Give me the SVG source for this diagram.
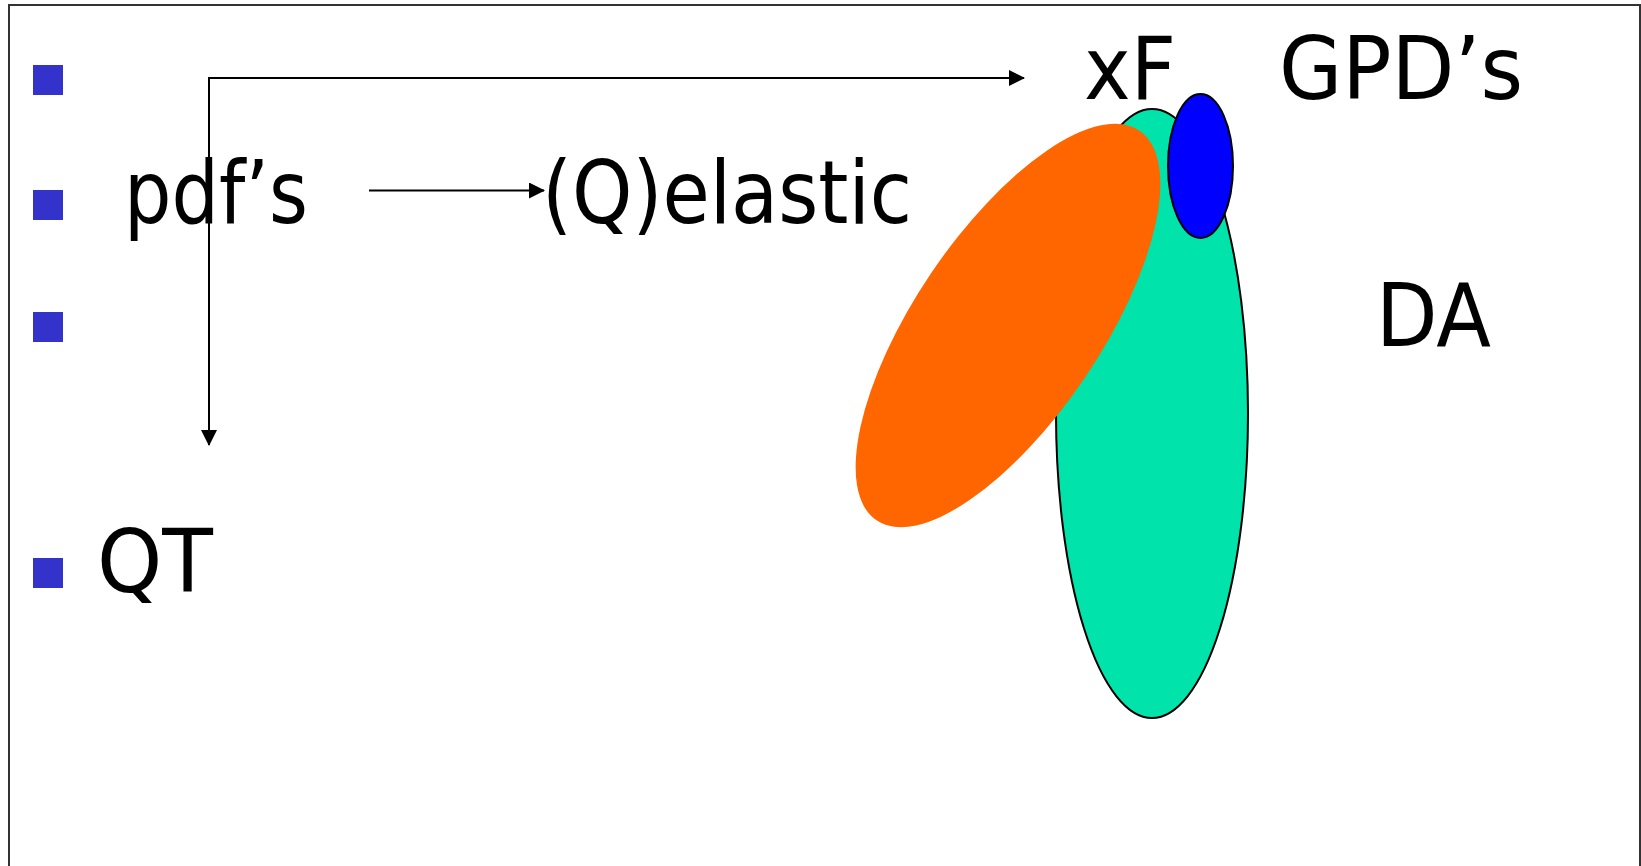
<svg xmlns="http://www.w3.org/2000/svg" width="1641" height="866" viewBox="0 0 1641 866">
<style>
.t{font-family:"DejaVu Sans","Liberation Sans",sans-serif;font-size:88px;fill:#000}
.b{fill:#3333CC}
.c{stroke:#000;stroke-width:2;fill:none}
</style>
<defs>
<marker id="ah" viewBox="0 0 16 16" refX="15" refY="8" markerWidth="16" markerHeight="16" markerUnits="userSpaceOnUse" orient="auto">
<path d="M0,0 L16,8 L0,16 Z" fill="#000"/>
</marker>
</defs>
<rect x="0" y="0" width="1641" height="866" fill="#fff"/>
<rect x="9" y="5" width="1631" height="900" fill="none" stroke="#333" stroke-width="2"/>
<g id="bullets">
<rect class="b" x="33" y="65" width="30" height="30"/>
<rect class="b" x="33" y="190" width="30" height="30"/>
<rect class="b" x="33" y="312" width="30" height="30"/>
<rect class="b" x="33" y="558" width="30" height="30"/>
</g>
<g id="shapes">
<ellipse id="green" cx="1152" cy="413.5" rx="96" ry="304.5" fill="#00E3AA" stroke="#000" stroke-width="2"/>
<ellipse id="orange" cx="1008" cy="325.5" rx="235" ry="93" fill="#FF6600" transform="rotate(-56 1008 325.5)"/>
<ellipse id="blue" cx="1200.5" cy="166" rx="32.5" ry="72" fill="#0000FF" stroke="#000" stroke-width="2"/>
</g>
<g id="connectors">
<path class="c" d="M208,78 L1024,78" marker-end="url(#ah)"/>
<path class="c" d="M209,78 L209,445" marker-end="url(#ah)"/>
<path class="c" d="M369,190.5 L544,190.5" marker-end="url(#ah)"/>
</g>
<g id="n-pdfs"><text class="t" x="124" y="223" textLength="184" lengthAdjust="spacingAndGlyphs">pdf’s</text></g>
<g id="n-qelastic"><text class="t" x="542" y="223" textLength="370" lengthAdjust="spacingAndGlyphs">(Q)elastic</text></g>
<g id="n-xf"><text class="t" x="1084" y="99" textLength="92" lengthAdjust="spacingAndGlyphs">xF</text></g>
<g id="n-gpds"><text class="t" x="1279" y="99" textLength="244" lengthAdjust="spacingAndGlyphs">GPD’s</text></g>
<g id="n-da"><text class="t" x="1376" y="346" textLength="115" lengthAdjust="spacingAndGlyphs">DA</text></g>
<g id="n-qt"><text class="t" x="97" y="592" textLength="116" lengthAdjust="spacingAndGlyphs">QT</text></g>
</svg>
